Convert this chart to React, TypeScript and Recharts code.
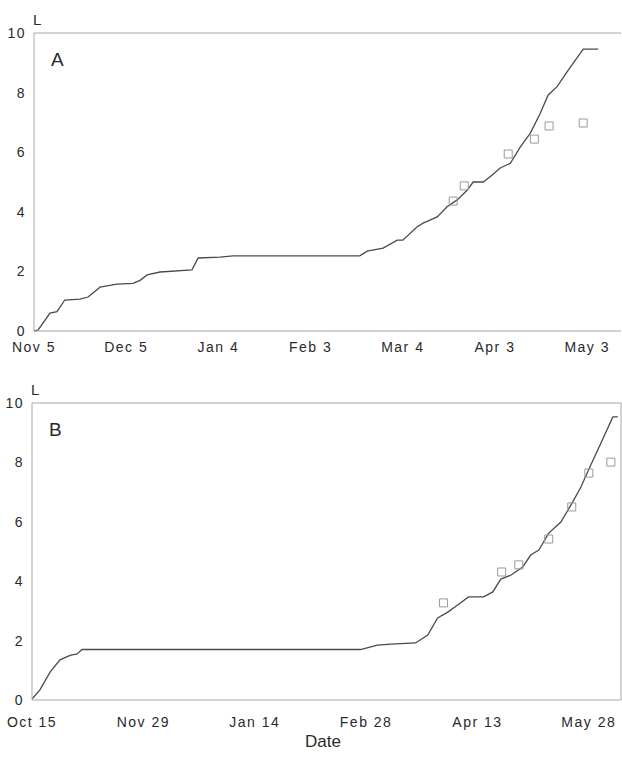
import React from "react";
import {
  ComposedChart,
  Line,
  Scatter,
  XAxis,
  YAxis,
  ReferenceLine,
} from "recharts";

// Panel A: days since Nov 5
const ticksA = [0, 30, 60, 90, 120, 150, 180];
const tickLabelsA = ["Nov 5", "Dec 5", "Jan 4", "Feb 3", "Mar 4", "Apr 3", "May 3"];
const curveDaysA = [0, 1.3, 5.2, 7.5, 10, 15, 17.6, 21.5, 27, 32.2, 34.5, 36.8, 41, 51.4, 53.4, 60.5, 64.8, 106, 108.4, 113.6, 118.2, 120, 124.7, 126.6, 131.2, 134.4, 137.7, 141, 142.9, 146.2, 149, 151.7, 155, 158.2, 161.5, 164.7, 167.3, 170.2, 173.5, 178.7, 183.6];
const curveValuesA = [0, 0.03, 0.6, 0.65, 1.04, 1.07, 1.14, 1.47, 1.57, 1.6, 1.7, 1.88, 1.98, 2.05, 2.45, 2.48, 2.52, 2.52, 2.68, 2.78, 3.05, 3.05, 3.5, 3.62, 3.83, 4.17, 4.4, 4.73, 5.0, 5.0, 5.23, 5.47, 5.63, 6.17, 6.64, 7.3, 7.92, 8.2, 8.7, 9.46, 9.46];
const obsDaysA = [136.4, 140, 154.3, 162.8, 167.6, 178.7];
const obsValuesA = [4.36, 4.87, 5.94, 6.44, 6.88, 6.98];

// Panel B: days since Oct 15
const ticksB = [0, 45, 90, 135, 180, 225];
const tickLabelsB = ["Oct 15", "Nov 29", "Jan 14", "Feb 28", "Apr 13", "May 28"];
const curveDaysB = [0, 3.2, 7.3, 11.3, 15.4, 18.2, 20.2, 132.7, 139.6, 145, 155, 159.9, 163.9, 168, 172, 176.4, 182.5, 186.2, 189.4, 193.4, 198.3, 201.5, 204.8, 208.8, 213.7, 218.5, 221.8, 225.8, 229.9, 234.7, 236.7];
const curveValuesB = [0.03, 0.34, 0.94, 1.35, 1.5, 1.55, 1.7, 1.7, 1.85, 1.88, 1.92, 2.19, 2.76, 2.96, 3.2, 3.47, 3.47, 3.64, 4.07, 4.2, 4.48, 4.88, 5.05, 5.62, 5.99, 6.67, 7.17, 7.91, 8.65, 9.53, 9.53];
const obsDaysB = [166.3, 189.8, 196.7, 208.8, 218.1, 225, 233.9];
const obsValuesB = [3.27, 4.31, 4.55, 5.42, 6.5, 7.64, 8.01];

const yTicks = [0, 2, 4, 6, 8, 10];

const FONT = "'Liberation Sans', Arial, sans-serif";
const AXIS = "#a8a8a8";
const INK = "#2a2a2a";

const zip = (xs: number[], ys: number[]) => xs.map((d, i) => ({ day: d, value: ys[i] }));

type PanelProps = {
  letter: string;
  top: number;
  height: number;
  axisHeight: number;
  yWidth: number;
  xMax: number;
  ticks: number[];
  tickLabels: string[];
  tickMargin: number;
  curve: { day: number; value: number }[];
  obs: { day: number; value: number }[];
  boxed: boolean;
};

function Panel(p: PanelProps) {
  const tickStyle = { fontSize: 14, fill: INK, fontFamily: FONT, letterSpacing: 1.5 };
  return (
    <div style={{ position: "absolute", left: 0, top: p.top, width: 622, height: p.height }}>
      <ComposedChart
        width={622}
        height={p.height}
        margin={{ top: 33, right: 1, bottom: 0, left: 0 }}
      >
        <XAxis
          type="number"
          dataKey="day"
          domain={[0, p.xMax]}
          ticks={p.ticks}
          tickFormatter={(v: number) => p.tickLabels[p.ticks.indexOf(v)] ?? ""}
          height={p.axisHeight}
          stroke={AXIS}
          tickLine={false}
          tickMargin={p.tickMargin}
          tick={tickStyle}
          allowDataOverflow
        />
        <YAxis
          type="number"
          dataKey="value"
          domain={[0, 10]}
          ticks={yTicks}
          width={p.yWidth}
          stroke={AXIS}
          tickLine={false}
          tick={tickStyle}
        />
        <ReferenceLine y={10} stroke={AXIS} strokeWidth={1} />
        {p.boxed && <ReferenceLine x={p.xMax} stroke={AXIS} strokeWidth={1} />}
        <Line
          data={p.curve}
          dataKey="value"
          type="linear"
          stroke="#4a4a4a"
          strokeWidth={1.3}
          dot={false}
          isAnimationActive={false}
        />
        <Scatter
          data={p.obs}
          dataKey="value"
          shape="square"
          size={60}
          fill="none"
          stroke="#999"
          strokeWidth={1}
          isAnimationActive={false}
        />
      </ComposedChart>
      <span style={{ position: "absolute", left: p.yWidth - 1, top: 11, fontFamily: FONT, fontSize: 15, color: INK }}>
        L
      </span>
      <span style={{ position: "absolute", left: p.yWidth + 17, top: 49, fontFamily: FONT, fontSize: 19, color: INK }}>
        {p.letter}
      </span>
    </div>
  );
}

export default function App() {
  return (
    <div style={{ position: "absolute", left: 0, top: 0, width: 622, height: 759, background: "#fff" }}>
      <Panel
        letter="A"
        top={0}
        height={370}
        axisHeight={39}
        yWidth={34}
        xMax={191}
        ticks={ticksA}
        tickLabels={tickLabelsA}
        tickMargin={5}
        curve={zip(curveDaysA, curveValuesA)}
        obs={zip(obsDaysA, obsValuesA)}
        boxed={false}
      />
      <Panel
        letter="B"
        top={370}
        height={389}
        axisHeight={59}
        yWidth={32}
        xMax={238}
        ticks={ticksB}
        tickLabels={tickLabelsB}
        tickMargin={11}
        curve={zip(curveDaysB, curveValuesB)}
        obs={zip(obsDaysB, obsValuesB)}
        boxed={true}
      />
      <span style={{ position: "absolute", left: 305, top: 732, fontFamily: FONT, fontSize: 17, color: INK }}>
        Date
      </span>
    </div>
  );
}
